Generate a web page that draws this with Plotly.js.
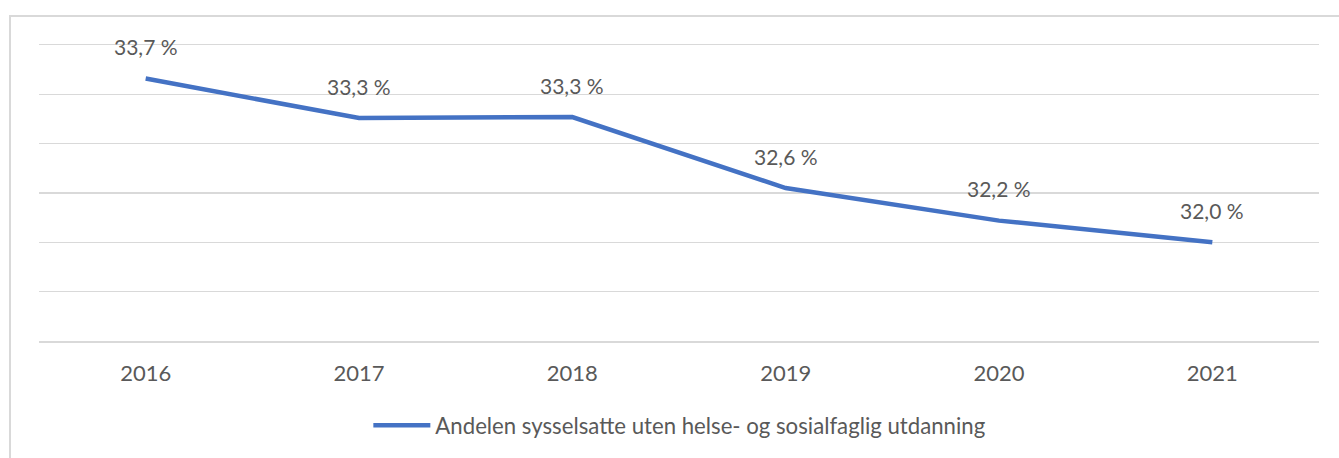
<!DOCTYPE html>
<html>
<head>
<meta charset="utf-8">
<script src="https://cdn.plot.ly/plotly-3.0.1.min.js"></script>
<style>
  html, body { margin: 0; padding: 0; background: #fff; }
  #wrap { position: relative; width: 1339px; height: 458px; overflow: hidden; }
  #chart { position: absolute; left: 0; top: 0; width: 1339px; height: 458px; }
  #frame { position: absolute; left: 9px; top: 15px; width: 1400px; height: 500px;
           border-left: 2px solid #d9d9d9; border-top: 2px solid #d9d9d9; pointer-events: none; }
</style>
</head>
<body>
<div id="wrap">
  <div id="chart"></div>
  <div id="frame"></div>
</div>
<script>
const years = ['2016', '2017', '2018', '2019', '2020', '2021'];
const shareValues = [33.66, 33.26, 33.27, 32.55, 32.22, 32.0];
const valueLabels = ['33,7 %', '33,3 %', '33,3 %', '32,6 %', '32,2 %', '32,0 %'];
const seriesName = 'Andelen sysselsatte uten helse- og sosialfaglig utdanning';

const FONT = 'Lato, sans-serif';
const TXT = '#595959';

const trace = {
  x: years,
  y: shareValues,
  type: 'scatter',
  mode: 'lines',
  name: seriesName,
  line: { color: '#4472C4', width: 4.5, shape: 'linear' },
  hoverinfo: 'skip'
};

const annotations = shareValues.map((v, i) => ({
  x: i, y: v, xref: 'x', yref: 'y',
  text: valueLabels[i], showarrow: false, yshift: 32,
  xanchor: 'center', yanchor: 'middle',
  font: { family: FONT, size: 21, color: TXT }
}));

const layout = {
  width: 1339, height: 458,
  margin: { l: 39, r: 20, t: 45, b: 115 },
  paper_bgcolor: 'rgba(0,0,0,0)',
  plot_bgcolor: '#fff',
  font: { family: FONT, color: TXT },
  showlegend: true,
  legend: {
    orientation: 'h', x: 0.2573, xanchor: 'left', y: -0.285, yanchor: 'middle',
    font: { family: FONT, size: 22.2, color: TXT },
    itemwidth: 57, bgcolor: 'rgba(0,0,0,0)'
  },
  xaxis: {
    type: 'category', range: [-0.5, 5.5],
    showgrid: false, zeroline: false,
    showline: true, mirror: 'all', linecolor: '#d9d9d9', linewidth: 1.5,
    ticks: '', tickfont: { family: FONT, size: 22, color: TXT },
    ticklabelstandoff: 12, fixedrange: true
  },
  yaxis: {
    range: [31, 34], dtick: 0.5, tick0: 31,
    showgrid: true, gridcolor: '#d9d9d9', gridwidth: 1.5,
    showticklabels: false, zeroline: false, showline: false, ticks: '',
    fixedrange: true
  },
  annotations: annotations
};

Plotly.newPlot('chart', [trace], layout, { displayModeBar: false, staticPlot: true });
</script>
</body>
</html>
